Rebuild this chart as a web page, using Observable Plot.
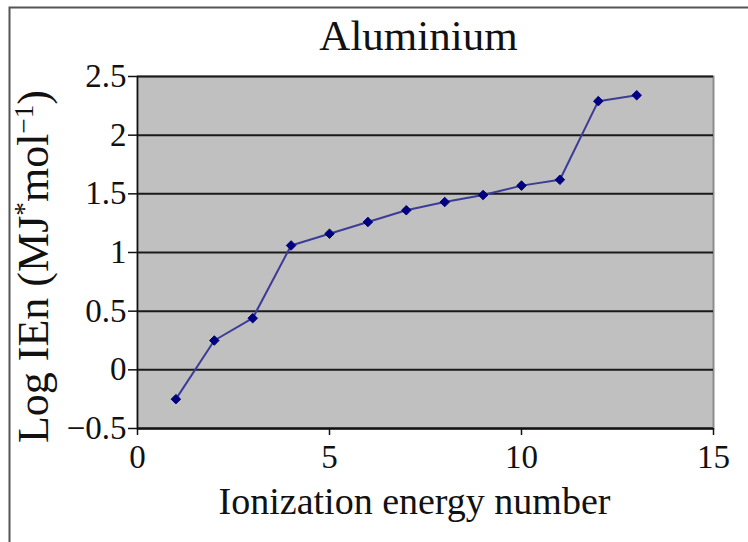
<!DOCTYPE html>
<html>
<head>
<meta charset="utf-8">
<script src="https://cdn.jsdelivr.net/npm/d3@7"></script>
<script src="https://cdn.jsdelivr.net/npm/@observablehq/plot@0.6"></script>
<style>
  html, body { margin: 0; padding: 0; background: #fff; }
  #chart svg { display: block; }
</style>
</head>
<body>
<div id="chart"></div>
<script>
const ionizationNumber = [1, 2, 3, 4, 5, 6, 7, 8, 9, 10, 11, 12, 13];
const logEnergy = [-0.25, 0.25, 0.44, 1.06, 1.16, 1.26, 1.36, 1.43, 1.49, 1.57, 1.62, 2.29, 2.34];
const xTicks = [0, 5, 10, 15];
const yTicks = [-0.5, 0, 0.5, 1, 1.5, 2, 2.5];
const title = "Aluminium";
const xLabel = "Ionization energy number";
const yLabelParts = ["Log IEn (MJ", "*", "mol", "−1", ")"];

const data = ionizationNumber.map((n, i) => ({n, v: logEnergy[i]}));
const serif = "Liberation Serif, DejaVu Serif, serif";
const fmt = d => String(d).replace("-", "−");

const plot = Plot.plot({
  width: 748,
  height: 542,
  marginLeft: 137,
  marginRight: 35,
  marginTop: 76,
  marginBottom: 114,
  style: {fontFamily: serif, background: "#fff", overflow: "visible"},
  x: {domain: [0, 15], ticks: xTicks},
  y: {domain: [-0.5, 2.5], ticks: yTicks},
  marks: [
    Plot.frame({fill: "#c0c0c0", stroke: "#8c8c8c", strokeWidth: 2}),
    Plot.gridY(yTicks, {stroke: "#1a1a1a", strokeOpacity: 1, strokeWidth: 2}),
    Plot.axisY({ticks: yTicks, tickFormat: fmt, tickSize: 9, tickPadding: 2, fontSize: 33, fontFamily: serif, label: null, stroke: "#111", strokeWidth: 1.5, fill: "#111"}),
    Plot.axisX({ticks: xTicks, tickFormat: fmt, tickSize: 7, tickPadding: 9, fontSize: 33, fontFamily: serif, label: null, stroke: "#111", strokeWidth: 1.5, fill: "#111"}),
    Plot.ruleY([-0.5], {stroke: "#111", strokeWidth: 2}),
    Plot.ruleX([0], {stroke: "#111", strokeWidth: 1.5}),
    Plot.line(data, {x: "n", y: "v", stroke: "#3c3c96", strokeWidth: 2}),
    Plot.dot(data, {x: "n", y: "v", symbol: "diamond2", r: 4.3, fill: "#000080", stroke: "#000080", strokeWidth: 1}),
    Plot.text([title], {frameAnchor: "top", dy: -40, dx: -7, fontSize: 43, fontFamily: serif, fill: "#111", lineAnchor: "middle"}),
    Plot.text([xLabel], {frameAnchor: "bottom", dy: 73, dx: -11, fontSize: 38, fontFamily: serif, fill: "#111", lineAnchor: "middle"}),
    Plot.text([yLabelParts.join("")], {frameAnchor: "left", textAnchor: "middle", dx: -104, dy: 14, rotate: -90, fontSize: 44, fontFamily: serif, fill: "#111", lineAnchor: "middle", className: "ylabel"})
  ]
});
document.getElementById("chart").appendChild(plot);

// superscripts in the y-axis label
const yl = d3.select(plot).select("g.ylabel text");
yl.text(null);
yLabelParts.forEach((p, i) => {
  const sup = i === 1 || i === 3;
  const t = yl.append("tspan").text(p);
  if (sup) t.attr("font-size", "0.62em").attr("baseline-shift", "super");
});

// outer chart-area border (top and left edges visible in the reference)
d3.select(plot).insert("path", ":first-child")
  .attr("d", "M9.5,542 L9.5,7.5 L748,7.5")
  .attr("fill", "none")
  .attr("stroke", "#555")
  .attr("stroke-width", 2);
</script>
</body>
</html>
